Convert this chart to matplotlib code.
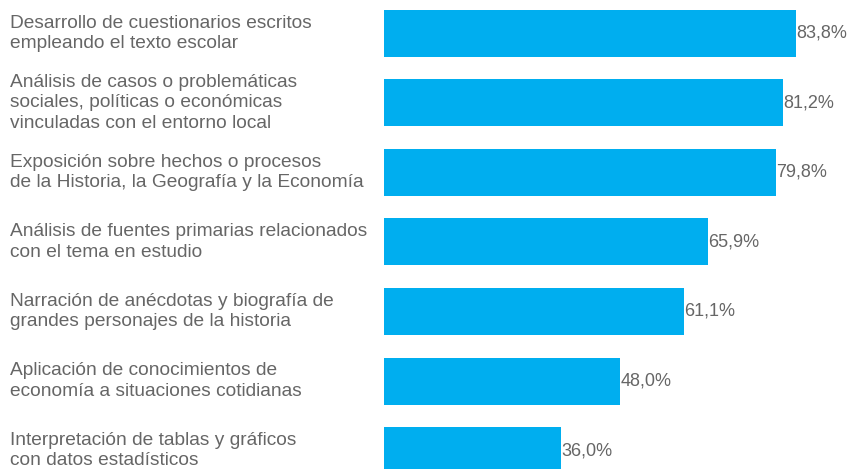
import matplotlib
matplotlib.use("Agg")
import matplotlib.pyplot as plt
from matplotlib.transforms import blended_transform_factory

categories = [
    "Desarrollo de cuestionarios escritos\nempleando el texto escolar",
    "Análisis de casos o problemáticas\nsociales, políticas o económicas\nvinculadas con el entorno local",
    "Exposición sobre hechos o procesos\nde la Historia, la Geografía y la Economía",
    "Análisis de fuentes primarias relacionados\ncon el tema en estudio",
    "Narración de anécdotas y biografía de\ngrandes personajes de la historia",
    "Aplicación de conocimientos de\neconomía a situaciones cotidianas",
    "Interpretación de tablas y gráficos\ncon datos estadísticos",
]
values = [83.8, 81.2, 79.8, 65.9, 61.1, 48.0, 36.0]

BAR_COLOR = "#00AEEF"
TEXT_COLOR = "#666666"
FONT = "Liberation Sans"

W, H = 849, 469
fig = plt.figure(figsize=(W / 100, H / 100), dpi=100)

# plot area: bars start at x=384px, 1% = 4.912px
left_px = 384
px_per_pct = 4.912
ax = fig.add_axes([left_px / W, 0, 100 * px_per_pct / W, 1])

pitch = 69.5
first_center = 33.5
positions = list(range(len(values)))
ax.barh(positions, values, height=47 / pitch, color=BAR_COLOR, linewidth=0)

ax.set_xlim(0, 100)
top = -first_center / pitch
bottom = (H - first_center) / pitch
ax.set_ylim(bottom, top)
ax.axis("off")

# category labels sit at the left edge of the figure
label_tf = blended_transform_factory(fig.transFigure, ax.transData)
for pos, cat, val in zip(positions, categories, values):
    ax.text(9.5 / W, pos, cat, transform=label_tf, ha="left", va="center",
            fontsize=13.8, color=TEXT_COLOR, family=FONT, linespacing=1.26)
    ax.text(val + 0.1, pos, f"{val:.1f}".replace(".", ",") + "%",
            ha="left", va="center", fontsize=13, color=TEXT_COLOR, family=FONT)

fig.savefig("out.png", dpi=100)
